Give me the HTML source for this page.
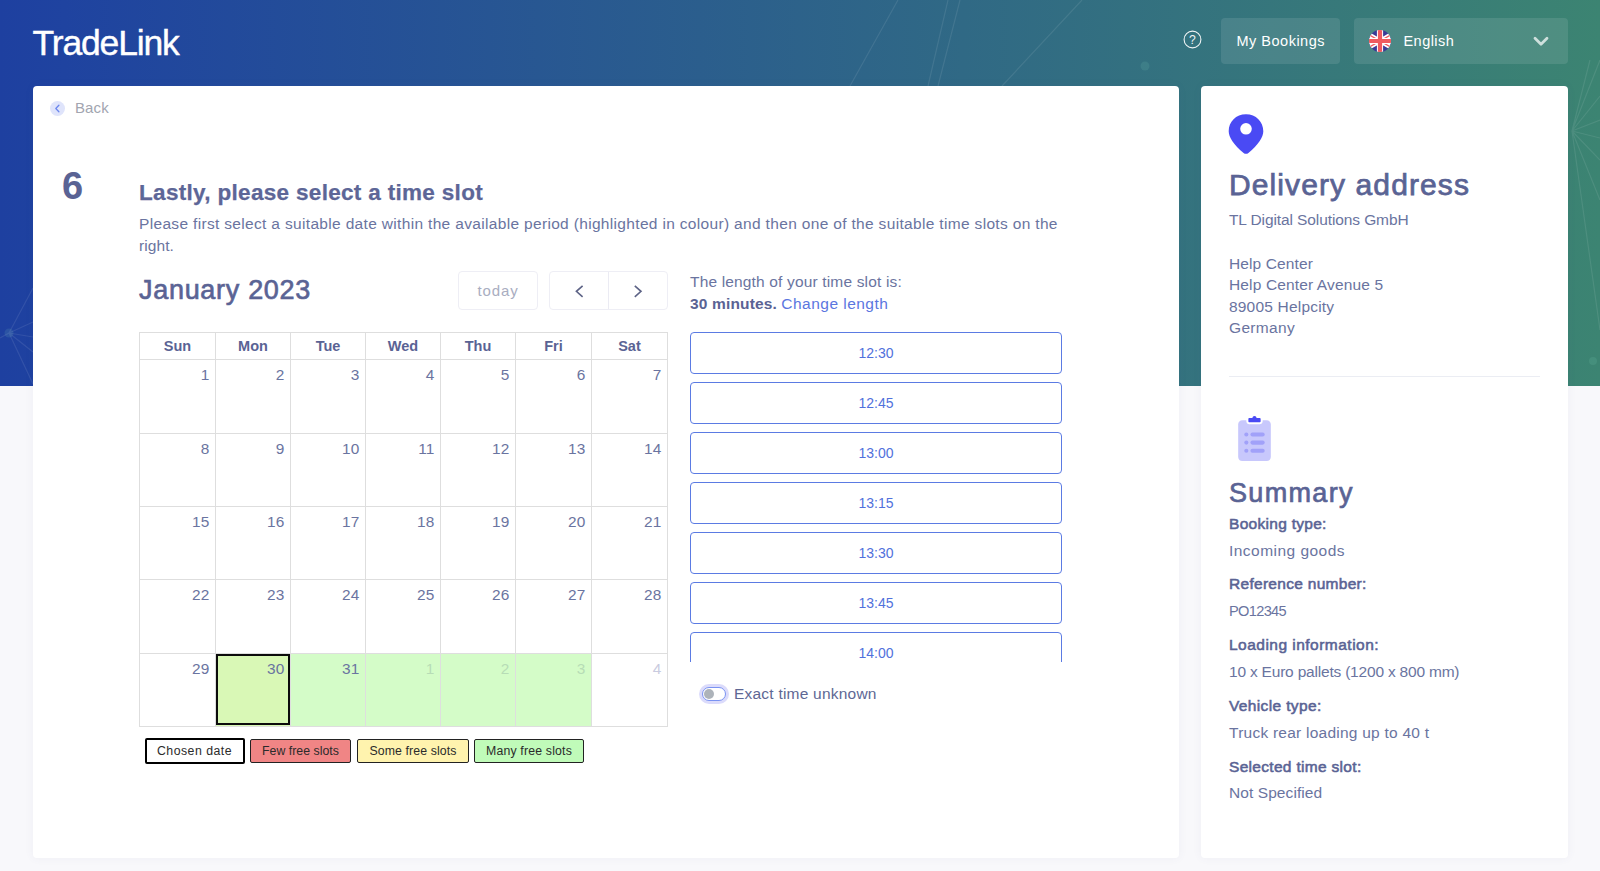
<!DOCTYPE html>
<html lang="en">
<head>
<meta charset="utf-8">
<title>TradeLink – Select a time slot</title>
<style>
*{box-sizing:border-box;margin:0;padding:0}
html,body{width:1600px;height:871px;overflow:hidden}
body{position:relative;background:#f8f8fb;font-family:"Liberation Sans",sans-serif;color:#5e6794;-webkit-font-smoothing:antialiased}
.hero{position:absolute;left:0;top:0;width:1600px;height:386px;background:linear-gradient(90deg,#1e40a0 0%,#1f43a0 4%,#3c8472 100%);overflow:hidden}
.hero svg{position:absolute;left:0;top:0}
.logo{position:absolute;left:32.5px;top:21px;font-family:"Liberation Sans",sans-serif;font-size:35.5px;line-height:44px;color:#fff;-webkit-text-stroke:.4px #fff;letter-spacing:-1.15px;white-space:nowrap}
.help{position:absolute;left:1183.2px;top:29.5px;width:19px;height:19px}
.hbtn{position:absolute;top:18px;height:46px;border-radius:4px;background:rgba(255,255,255,.1);color:#fff;font-size:14.5px;line-height:46px;white-space:nowrap}
.hbtn.book{left:1221px;width:119px;text-align:center;letter-spacing:.5px;text-indent:.5px}
.hbtn.lang{left:1354px;width:214px}
.hbtn.lang .flag{position:absolute;left:15px;top:12px;width:22px;height:22px}
.hbtn.lang .lbl{position:absolute;left:49.5px;top:0;letter-spacing:.45px}
.hbtn.lang .chev{position:absolute;left:179px;top:18px;width:16px;height:11px}
.card{position:absolute;top:86px;height:772px;background:#fff;border-radius:4px;box-shadow:0 0 10px rgba(80,90,140,.06)}
.card.main{left:33px;width:1145.6px}
.card.side{left:1201px;width:367px}

.abs{position:absolute;white-space:nowrap}
h2{font-weight:normal}
.back-ic{position:absolute;left:50px;top:101px;width:15px;height:15px}
#t-back{left:75px;top:98px;font-size:15px;line-height:20px;color:#a2a5b0}
#t-six{left:62px;top:163px;font-size:38px;line-height:46px;font-weight:bold;color:#5a6394}
#t-title{left:139px;top:177.5px;font-size:22.5px;-webkit-text-stroke:.25px #5d6697;line-height:30px;font-weight:bold;color:#5d6697}
.para{position:absolute;left:139px;top:212.5px;width:960px;font-size:15.5px;line-height:22px;color:#6a74a0}
#t-month{left:139px;top:271px;font-size:27px;line-height:38px;color:#5a6394;-webkit-text-stroke:.65px #5a6394}
.fcbtn{position:absolute;top:271px;height:39px;border:1px solid #eeeef5;border-radius:4px;background:#fff}
.fcbtn.today{left:458px;width:80px;text-align:center;font-size:15px;line-height:37px;color:#a9adc1}
.fcbtn.nav{left:549px;width:119px}
.fcbtn.nav i{position:absolute;left:58px;top:0;width:1px;height:37px;background:#ebebf3}
.fcbtn.nav svg{position:absolute;top:0;left:0;width:117px;height:37px}
table.cal{position:absolute;left:139px;top:332px;width:529px;border-collapse:collapse;table-layout:fixed}
table.cal th,table.cal td{border:1px solid #dedede}
table.cal th{height:27px;font-size:14.5px;font-weight:bold;color:#5a6394;text-align:center;vertical-align:middle}
table.cal td{height:73px;vertical-align:top;text-align:right;padding:5.6px 5.8px 0 0;font-size:15.4px;line-height:18px;color:#6a74a0}
table.cal tr.h74 td{height:74px}
table.cal td.g{background:#d4fcc8}
table.cal td.o{color:#c9cbe0}
table.cal td.g.o{color:#b7dcb6}
table.cal td.sel{background:#d9f8b6;position:relative}
.selbox{position:absolute;left:215.7px;top:653.5px;width:74.3px;height:71.6px;border:2.1px solid #0c0c0c;pointer-events:none}
.leg{position:absolute;height:24px;border:1px solid #222;border-radius:2px;font-size:12.3px;line-height:22px;text-align:center;color:#2b2b2b;white-space:nowrap}
.leg.c{left:144.5px;top:738px;width:100px;height:26px;border:2px solid #000;background:#fff}
.leg.f{left:250px;top:739px;width:101px;background:#f08585}
.leg.s{left:357px;top:739px;width:112px;background:#fff3ae}
.leg.m{left:474px;top:739px;width:110px;background:#c0fbb9}
#t-len1{left:690px;top:270.5px;font-size:15.5px;line-height:22px;color:#6a74a0}
#t-len2{left:690px;top:292.5px;font-size:15.5px;line-height:22px;color:#5a6394}
#t-len2 b{font-weight:bold}
#t-len2 a{color:#5b76df;text-decoration:none}
.slots{position:absolute;left:690px;top:332px;width:372px;height:330px;overflow:hidden}
.slot{display:block;width:372px;height:42px;margin-bottom:8px;border:1px solid #5b7be3;border-radius:4px;background:#fff;color:#5171dc;font-size:14px;line-height:40px;text-align:center}
.switch{position:absolute;left:701.8px;top:686.8px;width:24.5px;height:14px;border:1px solid #7a93f2;border-radius:7px;background:#fff;box-shadow:0 0 0 3px rgba(105,105,240,.24)}
.switch i{position:absolute;left:1px;top:1px;width:10px;height:10px;border-radius:50%;background:#adb3ba}
#t-exact{left:734px;top:683px;font-size:15.5px;line-height:22px;color:#5e6794}

.pin{position:absolute;left:1228px;top:114px;width:36px;height:40px}
.clip{position:absolute;left:1229.5px;top:414px;width:49px;height:49px}
.side-t{position:absolute;left:1229px;white-space:nowrap}
#s-deliv{top:165.3px;font-size:30px;line-height:40px;color:#5a6394;-webkit-text-stroke:.75px #5a6394}
.s-v{font-size:15.5px;line-height:22px;color:#6a74a0}
.s-l{font-size:15.5px;line-height:22px;color:#5a6394;-webkit-text-stroke:.55px #5a6394}
.hr{position:absolute;left:1229px;top:376px;width:311px;height:1px;background:#ebedf3}
#s-sum{top:473.7px;font-size:27px;line-height:38px;color:#5a6394;-webkit-text-stroke:.7px #5a6394}
#s-v2{font-size:14.6px}
/*LS-BEGIN*/
#t-back{letter-spacing:0.10px}
#t-six{letter-spacing:-1.44px}
#t-title{letter-spacing:0.32px}
#t-p1{letter-spacing:0.33px}
#t-p2{letter-spacing:0.09px}
#t-month{letter-spacing:0.70px}
#t-today{letter-spacing:0.88px}
#t-len1{letter-spacing:0.16px}
#t-30{letter-spacing:0.16px}
#t-chg{letter-spacing:0.47px}
#t-exact{letter-spacing:0.22px}
#t-l1{letter-spacing:0.48px}
#t-l2{letter-spacing:0.03px}
#t-l3{letter-spacing:0.10px}
#t-l4{letter-spacing:0.17px}
#s-deliv{letter-spacing:1.10px}
#s-comp{letter-spacing:-0.10px}
#s-a1{letter-spacing:0.12px}
#s-a2{letter-spacing:0.14px}
#s-a3{letter-spacing:0.19px}
#s-a4{letter-spacing:0.32px}
#s-sum{letter-spacing:1.33px}
#s-l1{letter-spacing:0.29px}
#s-v1{letter-spacing:0.47px}
#s-l2{letter-spacing:0.29px}
#s-v2{letter-spacing:-0.67px}
#s-l3{letter-spacing:0.48px}
#s-v3{letter-spacing:-0.20px}
#s-l4{letter-spacing:0.36px}
#s-v4{letter-spacing:0.24px}
#s-l5{letter-spacing:0.31px}
#s-v5{letter-spacing:0.08px}
/*LS-END*/
</style>
</head>
<body>
<div class="hero"><svg width="1600" height="386" viewBox="0 0 1600 386"><g stroke="#fff" stroke-opacity=".09" stroke-width="1.2" fill="none"><path d="M898 0 L850 86 M948 0 L928 86 M960 0 L938 86 M1082 0 L1002 86 M9 333 L33 288 M9 333 L33 322 M9 333 L33 337 M9 333 L33 352 M9 333 L33 384 M9 333 L0 338 M1572 131 L1600 60 M1572 131 L1600 96 M1572 131 L1600 120 M1572 131 L1600 138 M1572 131 L1600 160 M1572 131 L1600 200 M1572 131 L1600 330 M1572 131 L1590 60"/></g><g fill="#8fdcc8" fill-opacity=".12"><circle cx="9" cy="333" r="4.5"/><circle cx="1593" cy="361" r="4"/><circle cx="1145" cy="66" r="4.5"/></g></svg></div>
<header>
<div class="logo">TradeLink</div>
<svg class="help" viewBox="0 0 19 19"><circle cx="9.5" cy="9.5" r="8.4" fill="none" stroke="#fff" stroke-opacity=".92" stroke-width="1.1"/><text x="9.5" y="13.9" text-anchor="middle" font-family="Liberation Sans, sans-serif" font-size="12.2" fill="#fff" fill-opacity=".95">?</text></svg>
<div class="hbtn book">My Bookings</div>
<div class="hbtn lang"><svg class="flag" viewBox="0 0 22 22"><defs><clipPath id="fc"><circle cx="11" cy="11" r="11"/></clipPath></defs><g clip-path="url(#fc)"><rect width="22" height="22" fill="#3a3a96"/><path d="M-8 0 L30 22 M30 0 L-8 22" stroke="#fff" stroke-width="4.6"/><path d="M-8 0 L30 22 M30 0 L-8 22" stroke="#ef5a5f" stroke-width="1.3"/><path d="M11 0 V22 M0 11 H22" stroke="#fff" stroke-width="6.2"/><path d="M11 0 V22 M0 11 H22" stroke="#ef5a5f" stroke-width="4.2"/></g></svg><span class="lbl">English</span><svg class="chev" viewBox="0 0 16 11"><path d="M2 2.2 L8 8.2 L14 2.2" fill="none" stroke="#fff" stroke-opacity=".72" stroke-width="2.8" stroke-linecap="round" stroke-linejoin="round"/></svg></div>
</header>
<div class="card main"></div>
<div class="card side"></div>
<main>
<svg class="back-ic" viewBox="0 0 15 15"><circle cx="7.5" cy="7.5" r="7.5" fill="#dfe4fb"/><path d="M8.9 4.3 L5.8 7.5 L8.9 10.7" fill="none" stroke="#6b86ee" stroke-width="1.3" stroke-linecap="round" stroke-linejoin="round"/></svg>
<div class="abs" id="t-back">Back</div>
<div class="abs" id="t-six">6</div>
<h1 class="abs" id="t-title">Lastly, please select a time slot</h1>
<p class="para"><span id="t-p1">Please first select a suitable date within the available period (highlighted in colour) and then one of the suitable time slots on the</span><br><span id="t-p2">right.</span></p>
<h2 class="abs" id="t-month">January 2023</h2>
<div class="fcbtn today"><span id="t-today">today</span></div>
<div class="fcbtn nav"><i></i><svg viewBox="0 0 117 37"><path d="M32.6 13.8 L26.4 19.35 L32.6 24.9" fill="none" stroke="#5d6386" stroke-width="1.6"/><path d="M84.8 13.8 L91 19.35 L84.8 24.9" fill="none" stroke="#5d6386" stroke-width="1.6"/></svg></div>
<table class="cal">
<colgroup><col style="width:76px"><col style="width:75px"><col style="width:75px"><col style="width:75px"><col style="width:75px"><col style="width:76px"><col style="width:76px"></colgroup>
<thead><tr><th>Sun</th><th>Mon</th><th>Tue</th><th>Wed</th><th>Thu</th><th>Fri</th><th>Sat</th></tr></thead>
<tbody>
<tr class="h74"><td>1</td><td>2</td><td>3</td><td>4</td><td>5</td><td>6</td><td>7</td></tr>
<tr><td>8</td><td>9</td><td>10</td><td>11</td><td>12</td><td>13</td><td>14</td></tr>
<tr><td>15</td><td>16</td><td>17</td><td>18</td><td>19</td><td>20</td><td>21</td></tr>
<tr class="h74"><td>22</td><td>23</td><td>24</td><td>25</td><td>26</td><td>27</td><td>28</td></tr>
<tr><td>29</td><td class="sel">30</td><td class="g">31</td><td class="g o">1</td><td class="g o">2</td><td class="g o">3</td><td class="o">4</td></tr>
</tbody>
</table>
<div class="selbox"></div>
<div class="leg c"><span id="t-l1">Chosen date</span></div>
<div class="leg f"><span id="t-l2">Few free slots</span></div>
<div class="leg s"><span id="t-l3">Some free slots</span></div>
<div class="leg m"><span id="t-l4">Many free slots</span></div>
<div class="abs" id="t-len1">The length of your time slot is:</div>
<div class="abs" id="t-len2"><b id="t-30">30 minutes.</b> <a id="t-chg">Change length</a></div>
<div class="slots">
<div class="slot">12:30</div>
<div class="slot">12:45</div>
<div class="slot">13:00</div>
<div class="slot">13:15</div>
<div class="slot">13:30</div>
<div class="slot">13:45</div>
<div class="slot">14:00</div>
</div>
<div class="switch"><i></i></div>
<div class="abs" id="t-exact">Exact time unknown</div>


</main>
<aside>
<svg class="pin" viewBox="0 0 36 40"><path d="M18 0.3 C28 0.3 35.3 7.8 35.3 17.2 C35.3 23.2 30.3 30.6 20.4 38.9 C19 40.1 17 40.1 15.6 38.9 C5.7 30.6 0.7 23.2 0.7 17.2 C0.7 7.8 8 0.3 18 0.3 Z M18 9 A5.8 5.8 0 1 0 18 20.6 A5.8 5.8 0 1 0 18 9 Z" fill="#4a4af4" fill-rule="evenodd"/></svg>
<h2 class="side-t" id="s-deliv">Delivery address</h2>
<div class="side-t s-v" id="s-comp" style="top:209.4px">TL Digital Solutions GmbH</div>
<div class="side-t s-v" id="s-a1" style="top:252.9px">Help Center</div>
<div class="side-t s-v" id="s-a2" style="top:274.4px">Help Center Avenue 5</div>
<div class="side-t s-v" id="s-a3" style="top:295.9px">89005 Helpcity</div>
<div class="side-t s-v" id="s-a4" style="top:317.4px">Germany</div>
<div class="hr"></div>
<svg class="clip" viewBox="0 0 24 24"><path d="M8,3 L8,3.5 C8,4.32842712 8.67157288,5 9.5,5 L14.5,5 C15.3284271,5 16,4.32842712 16,3.5 L16,3 L18,3 C19.1045695,3 20,3.8954305 20,5 L20,21 C20,22.1045695 19.1045695,23 18,23 L6,23 C4.8954305,23 4,22.1045695 4,21 L4,5 C4,3.8954305 4.8954305,3 6,3 L8,3 Z" fill="#4a4af4" opacity="0.3"/><path d="M11,2 C11,1.44771525 11.4477153,1 12,1 C12.5522847,1 13,1.44771525 13,2 L14.5,2 C14.7761424,2 15,2.22385763 15,2.5 L15,3.5 C15,3.77614237 14.7761424,4 14.5,4 L9.5,4 C9.22385763,4 9,3.77614237 9,3.5 L9,2.5 C9,2.22385763 9.22385763,2 9.5,2 L11,2 Z" fill="#4a4af4"/><g fill="#4a4af4" opacity="0.3"><rect x="10" y="9" width="7" height="2" rx="1"/><rect x="7" y="9" width="2" height="2" rx="1"/><rect x="7" y="13" width="2" height="2" rx="1"/><rect x="10" y="13" width="7" height="2" rx="1"/><rect x="7" y="17" width="2" height="2" rx="1"/><rect x="10" y="17" width="7" height="2" rx="1"/></g></svg>
<h2 class="side-t" id="s-sum">Summary</h2>
<div class="side-t s-l" id="s-l1" style="top:512.7px">Booking type:</div>
<div class="side-t s-v" id="s-v1" style="top:539.7px">Incoming goods</div>
<div class="side-t s-l" id="s-l2" style="top:573.2px">Reference number:</div>
<div class="side-t s-v" id="s-v2" style="top:599.8px">PO12345</div>
<div class="side-t s-l" id="s-l3" style="top:634.1px">Loading information:</div>
<div class="side-t s-v" id="s-v3" style="top:661.1px">10 x Euro pallets (1200 x 800 mm)</div>
<div class="side-t s-l" id="s-l4" style="top:694.9px">Vehicle type:</div>
<div class="side-t s-v" id="s-v4" style="top:721.7px">Truck rear loading up to 40 t</div>
<div class="side-t s-l" id="s-l5" style="top:755.5px">Selected time slot:</div>
<div class="side-t s-v" id="s-v5" style="top:782.4px">Not Specified</div>
</aside>
</body>
</html>
